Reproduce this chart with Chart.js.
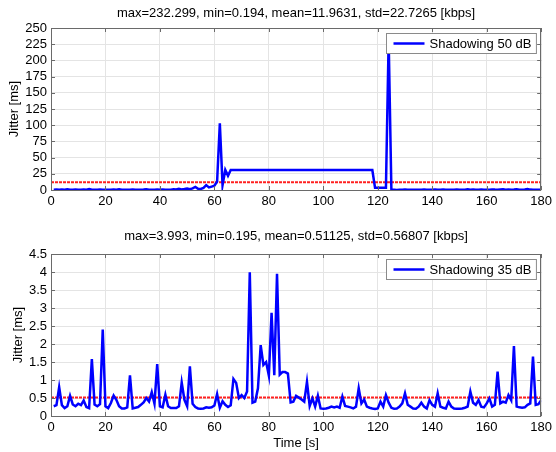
<!DOCTYPE html>
<html>
<head>
<meta charset="utf-8">
<script src="https://cdn.jsdelivr.net/npm/chart.js@4.4.1/dist/chart.umd.min.js"></script>
<style>
  body { margin: 0; background: #fff; }
  canvas { position: absolute; left: 0; }
</style>
</head>
<body>
<canvas id="top" width="556" height="212" style="top:0"></canvas>
<canvas id="bottom" width="556" height="232" style="top:220px"></canvas>
<script>
// jitter per second
const jitter50 = [
  0.4, 0.6, 0.3, 0.8, 0.5, 1.2, 0.4, 0.3, 0.6, 0.5,
  0.3, 0.7, 0.4, 1.5, 0.5, 0.3, 0.4, 0.9, 0.3, 0.5,
  0.4, 0.3, 0.6, 0.4, 1.1, 0.3, 0.5, 0.4, 0.3, 0.7,
  0.4, 0.5, 0.3, 0.6, 1.2, 0.4, 0.3, 0.5, 0.8, 0.4,
  0.6, 0.3, 0.5, 0.4, 1.0, 0.7, 1.8, 0.9, 1.5, 2.2,
  1.2, 2.6, 4.8, 1.9, 1.6, 3.2, 7.5, 4.0, 5.2, 6.5,
  13.0, 103.0, 7.5, 31.0, 22.0, 31.0, 30.9, 30.9, 30.9, 30.9,
  30.9, 30.9, 30.9, 30.9, 30.9, 30.9, 30.9, 30.9, 30.9, 30.9,
  30.9, 30.9, 30.9, 30.9, 30.9, 30.9, 30.9, 30.9, 30.9, 30.9,
  30.9, 30.9, 30.9, 30.9, 30.9, 30.9, 30.9, 30.9, 30.9, 30.9,
  30.9, 30.9, 30.9, 30.9, 30.9, 30.9, 30.9, 30.9, 30.9, 30.9,
  30.9, 30.9, 30.9, 30.9, 30.9, 30.9, 30.9, 30.9, 3.5, 3.5,
  3.5, 3.5, 3.5, 232.299, 0.3, 0.4, 0.194, 0.5, 0.3, 0.6,
  0.4, 0.3, 0.5, 0.2, 0.4, 0.3, 0.7, 0.4, 0.3, 0.5,
  0.9, 0.4, 0.3, 0.6, 0.4, 0.2, 0.5, 0.3, 0.8, 0.4,
  0.3, 0.5, 1.0, 0.4, 0.6, 0.3, 0.4, 0.7, 0.3, 0.5,
  0.4, 0.9, 0.6, 0.4, 0.8, 1.1, 0.5, 0.7, 0.4, 0.6,
  1.0, 0.5, 0.4, 0.7, 1.6, 0.6, 0.4, 0.5, 0.3, 0.4
];

const jitter35 = [
  0.27, 0.3, 0.8, 0.3, 0.22, 0.27, 0.56, 0.32, 0.27, 0.34,
  0.3, 0.43, 0.25, 0.22, 1.58, 0.32, 0.27, 0.33, 2.4, 0.27,
  0.22, 0.36, 0.57, 0.45, 0.27, 0.21, 0.21, 0.24, 1.13, 0.21,
  0.23, 0.25, 0.31, 0.38, 0.5, 0.4, 0.66, 0.34, 1.44, 0.27,
  0.24, 0.59, 0.27, 0.22, 0.22, 0.22, 0.27, 0.93, 0.45, 0.27,
  1.38, 0.34, 0.25, 0.21, 0.2, 0.21, 0.24, 0.23, 0.24, 0.29,
  0.61, 0.23, 0.41, 0.31, 0.25, 0.3, 1.03, 0.92, 0.5, 0.58,
  0.5, 0.68, 3.993, 0.37, 0.4, 0.77, 1.97, 1.42, 1.5, 1.12,
  2.87, 1.13, 3.95, 1.15, 1.22, 1.22, 1.18, 0.38, 0.4, 0.56,
  0.51, 0.46, 0.4, 0.95, 0.28, 0.49, 0.26, 0.56, 0.21, 0.2,
  0.21, 0.23, 0.26, 0.24, 0.26, 0.23, 0.54, 0.28, 0.26, 0.24,
  0.21, 0.26, 0.77, 0.35, 0.46, 0.26, 0.23, 0.21, 0.195, 0.21,
  0.4, 0.26, 0.58, 0.37, 0.23, 0.2, 0.21, 0.26, 0.35, 0.63,
  0.31, 0.26, 0.21, 0.2, 0.26, 0.37, 0.26, 0.21, 0.44, 0.31,
  0.26, 0.63, 0.26, 0.23, 0.21, 0.4, 0.26, 0.21, 0.2, 0.2,
  0.21, 0.23, 0.26, 0.68, 0.37, 0.31, 0.44, 0.26, 0.24, 0.35,
  0.49, 0.26, 0.31, 1.23, 0.35, 0.4, 0.37, 0.58, 0.44, 1.94,
  0.26, 0.24, 0.23, 0.24, 0.31, 0.35, 1.65, 0.31, 0.33, 0.44
];

const mean50 = 11.9631;
const mean35 = 0.51125;
const title50 = 'max=232.299, min=0.194, mean=11.9631, std=22.7265 [kbps]';
const title35 = 'max=3.993, min=0.195, mean=0.51125, std=0.56807 [kbps]';
const xRange = [0, 180];

const FONT = '"Liberation Sans", Arial, sans-serif';

// draws the matlab-ish frame, inward ticks, title and boxed legend
const matlabBox = {
    id: 'matlabBox',
    afterDraw(chart, args, opts) {
        const { ctx, chartArea: a, scales } = chart;
        ctx.save();
        ctx.strokeStyle = '#6a6a6a';
        ctx.lineWidth = 1;
        ctx.beginPath();
        scales.x.ticks.forEach(t => {
            const x = Math.round(scales.x.getPixelForValue(t.value)) + 0.5;
            ctx.moveTo(x, a.bottom); ctx.lineTo(x, a.bottom - 4);
            ctx.moveTo(x, a.top); ctx.lineTo(x, a.top + 4);
        });
        scales.y.ticks.forEach(t => {
            const y = Math.round(scales.y.getPixelForValue(t.value)) + 0.5;
            ctx.moveTo(a.left, y); ctx.lineTo(a.left + 4, y);
            ctx.moveTo(a.right, y); ctx.lineTo(a.right - 4, y);
        });
        ctx.stroke();
        ctx.strokeRect(Math.round(a.left) + 0.5, Math.round(a.top) + 0.5,
                       Math.round(a.width) - 1, Math.round(a.height));

        ctx.font = '13px ' + FONT;
        ctx.fillStyle = '#000';
        ctx.textAlign = 'center';
        ctx.textBaseline = 'middle';
        ctx.fillText(opts.title, (a.left + a.right) / 2, opts.titleY);

        // legend box
        const tw = ctx.measureText(opts.label).width;
        const bw = tw + 48, bh = 20;
        const bx = Math.round(a.right - 5 - bw) + 0.5, by = Math.round(a.top + 5) + 0.5;
        ctx.fillStyle = '#fff';
        ctx.fillRect(bx, by, bw, bh);
        ctx.strokeStyle = '#8a8a8a';
        ctx.strokeRect(bx, by, bw, bh);
        ctx.strokeStyle = '#0000ff';
        ctx.lineWidth = 2.5;
        ctx.beginPath();
        ctx.moveTo(bx + 7, by + bh / 2);
        ctx.lineTo(bx + 38, by + bh / 2);
        ctx.stroke();
        ctx.fillStyle = '#000';
        ctx.textAlign = 'left';
        ctx.fillText(opts.label, bx + 43, by + bh / 2 + 0.5);
        ctx.restore();
    }
};

function makePanel(canvasId, values, mean, yMax, yStep, opts) {
    const pts = values.map((v, i) => ({ x: i + 1, y: v }));
    return new Chart(document.getElementById(canvasId), {
        type: 'line',
        data: {
            datasets: [
                {
                    label: opts.label,
                    data: pts,
                    borderColor: '#0000ff',
                    borderWidth: 2.5,
                    pointRadius: 0,
                    tension: 0,
                },
                {
                    label: 'mean',
                    data: [{ x: xRange[0], y: mean }, { x: xRange[1], y: mean }],
                    borderColor: '#ff2020',
                    borderWidth: 2,
                    borderDash: [3, 1],
                    pointRadius: 0,
                },
            ]
        },
        options: {
            responsive: false,
            animation: false,
            layout: { padding: { top: opts.padTop, right: 12, left: 0, bottom: 0 } },
            scales: {
                x: {
                    type: 'linear',
                    min: xRange[0],
                    max: xRange[1],
                    afterFit: s => { s.height = opts.xHeight; },
                    ticks: { stepSize: 20, color: '#000', padding: 4, maxRotation: 0, autoSkip: false,
                             font: { family: FONT, size: 13 } },
                    grid: { color: '#e4e4e4', drawTicks: false },
                    border: { display: false },
                    title: {
                        display: !!opts.xTitle,
                        text: opts.xTitle || '',
                        color: '#000',
                        padding: { top: 0, bottom: 1 },
                        font: { family: FONT, size: 13 },
                    },
                },
                y: {
                    min: 0,
                    max: yMax,
                    afterFit: s => { s.width = 51; },
                    ticks: { stepSize: yStep, color: '#000', padding: 4, autoSkip: false,
                             callback: v => String(+v.toFixed(2)),
                             font: { family: FONT, size: 13 } },
                    grid: { color: '#e4e4e4', drawTicks: false },
                    border: { display: false },
                    title: {
                        display: true,
                        text: 'Jitter [ms]',
                        color: '#000',
                        padding: { top: opts.yTitlePad, bottom: 0 },
                        font: { family: FONT, size: 13 },
                    },
                },
            },
            plugins: {
                legend: { display: false },
                tooltip: { enabled: false },
                matlabBox: { title: opts.title, titleY: opts.titleY, label: opts.label },
            }
        },
        plugins: [matlabBox]
    });
}

makePanel('top', jitter50, mean50, 250, 25, {
    label: 'Shadowing 50 dB', title: title50, titleY: 13,
    padTop: 28, xHeight: 22, yTitlePad: 7,
});

makePanel('bottom', jitter35, mean35, 4.5, 0.5, {
    label: 'Shadowing 35 dB', title: title35, titleY: 16,
    padTop: 34, xHeight: 36, yTitlePad: 11, xTitle: 'Time [s]',
});
</script>
</body>
</html>
